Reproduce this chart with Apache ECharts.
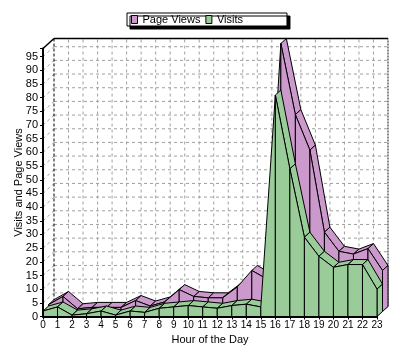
<!DOCTYPE html>
<html><head><meta charset="utf-8">
<script src="https://cdn.jsdelivr.net/npm/echarts@6/dist/echarts.min.js"></script>
<style>html,body{margin:0;padding:0;background:#fff}#c{width:400px;height:356px}</style>
</head><body><div id="c"></div>
<script>
// ---- data ----
const hours = ['0','1','2','3','4','5','6','7','8','9','10','11','12','13','14','15','16','17','18','19','20','21','22','23'];
const yTicks = [0,5,10,15,20,25,30,35,40,45,50,55,60,65,70,75,80,85,90,95];
const visits    = [2, 3.5, 0.5, 1, 2, 0.5, 2, 1.5, 3, 3.5, 4, 3.5, 3, 4, 4.5, 3.5, 81, 54, 29, 22, 18, 19, 19, 10];
const pageViews = [2.5, 5.5, 1, 1.5, 1.5, 1.5, 4, 2, 3.5, 8, 5.5, 5, 5, 9, 15, 12, 98, 72, 59, 29, 22, 21, 23, 15];
const seriesNames = ['Page Views', 'Visits'];
const Y_MAX = 98;

// ---- style / projection ----
const DEPTH = [11, -10];
const FONT = "'Liberation Sans', Arial, sans-serif";
const PURPLE = '#cc99cc', GREEN = '#99cc99';

function off(p, t) { return [p[0] + DEPTH[0] * t, p[1] + DEPTH[1] * t]; }

function rowRender(values, t0, t1, color) {
  return function (params, api) {
    const i = params.dataIndex;
    const children = [];
    const style = { fill: color, stroke: '#000', lineWidth: 1 };
    const v0 = values[i];
    const F0 = off(api.coord([i, v0]), t0);
    const B0 = off(api.coord([i, 0]), t0);
    if (i < values.length - 1) {
      const v1 = values[i + 1];
      const F1 = off(api.coord([i + 1, v1]), t0);
      const B1 = off(api.coord([i + 1, 0]), t0);
      const ex = F1[0] - F0[0], ey = F1[1] - F0[1];
      const dx = DEPTH[0] * (t1 - t0), dy = DEPTH[1] * (t1 - t0);
      if (ex * dy - ey * dx < 0) {
        children.push({ type: 'polygon', z2: 1,
          shape: { points: [F0, F1, off(api.coord([i + 1, v1]), t1), off(api.coord([i, v0]), t1)] },
          style: style });
      }
      children.push({ type: 'polygon', z2: 3, shape: { points: [B0, F0, F1, B1] }, style: style });
    } else {
      children.push({ type: 'polygon', z2: 2,
        shape: { points: [B0, F0, off(api.coord([i, v0]), t1), off(api.coord([i, 0]), t1)] },
        style: style });
    }
    return { type: 'group', children: children };
  };
}

function frameRender(params, api) {
  const ch = [];
  const grid = { stroke: '#a0a0a0', lineWidth: 1, lineDash: [3, 3] };
  const last = hours.length - 1;
  yTicks.forEach(function (v) {
    const a = api.coord([0, v]);
    ch.push({ type: 'line', shape: { x1: a[0], y1: a[1], x2: off(a, 1)[0], y2: off(a, 1)[1] }, style: grid });
    const b = off(a, 1), c = off(api.coord([last, v]), 1);
    if (v > 0) ch.push({ type: 'line', shape: { x1: b[0], y1: b[1], x2: c[0], y2: c[1] }, style: grid });
  });
  hours.forEach(function (h, i) {
    const a = api.coord([i, 0]);
    const b = off(a, 1), c = off(api.coord([i, Y_MAX]), 1);
    ch.push({ type: 'line', shape: { x1: a[0], y1: a[1], x2: b[0], y2: b[1] }, style: grid });
    if (i > 0 && i < last) ch.push({ type: 'line', shape: { x1: b[0], y1: b[1], x2: c[0], y2: c[1] }, style: grid });
  });
  const tl = api.coord([0, Y_MAX]), tlb = off(tl, 1);
  const trb = off(api.coord([last, Y_MAX]), 1);
  const blb = off(api.coord([0, 0]), 1), brb = off(api.coord([last, 0]), 1);
  ch.push({ type: 'line', shape: { x1: blb[0], y1: blb[1], x2: tlb[0], y2: tlb[1] }, style: { stroke: '#000', lineWidth: 1, lineDash: [3, 2] } });
  ch.push({ type: 'line', shape: { x1: blb[0], y1: blb[1], x2: brb[0], y2: brb[1] }, style: grid });
  ch.push({ type: 'line', shape: { x1: brb[0], y1: brb[1], x2: trb[0], y2: trb[1] }, style: { stroke: '#888', lineWidth: 2, lineDash: [2, 1] } });
  ch.push({ type: 'line', shape: { x1: tl[0], y1: tl[1], x2: tlb[0], y2: tlb[1] }, style: { stroke: '#000', lineWidth: 1.5 } });
  ch.push({ type: 'line', shape: { x1: tlb[0], y1: tlb[1], x2: trb[0], y2: trb[1] }, style: { stroke: '#000', lineWidth: 1.5 } });
  return { type: 'group', children: ch };
}

const chart = echarts.init(document.getElementById('c'), null, { renderer: 'canvas' });
chart.setOption({
  animation: false,
  backgroundColor: '#fff',
  textStyle: { fontFamily: FONT },
  grid: { left: 43, right: 23, top: 48.5, bottom: 39.5 },
  legend: {
    left: 127, top: 13, padding: [1, 44, 1, 4], itemGap: 5,
    itemWidth: 6, itemHeight: 8,
    backgroundColor: '#fff', borderColor: '#000', borderWidth: 1,
    shadowColor: '#000', shadowOffsetX: 3, shadowOffsetY: 3, shadowBlur: 0.01,
    textStyle: { fontSize: 11, color: '#000', fontFamily: FONT },
    data: [
      { name: seriesNames[0], icon: 'rect', itemStyle: { color: PURPLE, borderColor: '#000', borderWidth: 1 } },
      { name: seriesNames[1], icon: 'rect', itemStyle: { color: GREEN, borderColor: '#000', borderWidth: 1 } }
    ]
  },
  xAxis: {
    type: 'value', min: 0, max: hours.length - 1, interval: 1, z: 10,
    name: 'Hour of the Day', nameLocation: 'middle', nameGap: 18, nameMoveOverlap: false,
    nameTextStyle: { fontSize: 11, color: '#000', fontFamily: FONT },
    axisLine: { lineStyle: { color: '#000', width: 2 } },
    axisTick: { length: 3, lineStyle: { color: '#000' } },
    axisLabel: { fontSize: 10, color: '#000', margin: 4, fontFamily: FONT, formatter: function (v) { return hours[v] || ''; } },
    splitLine: { show: false }
  },
  yAxis: {
    type: 'value', min: 0, max: Y_MAX, interval: 5, z: 10,
    name: 'Visits and Page Views', nameLocation: 'middle', nameGap: 19, nameRotate: 90, nameMoveOverlap: false,
    nameTextStyle: { fontSize: 11, color: '#000', fontFamily: FONT },
    axisLine: { show: true, lineStyle: { color: '#000', width: 2 } },
    axisTick: { show: true, length: 3, lineStyle: { color: '#000' } },
    axisLabel: { fontSize: 11, color: '#000', margin: 5, fontFamily: FONT,
      formatter: function (v) { return yTicks.indexOf(v) >= 0 ? String(v) : ''; } },
    splitLine: { show: false }
  },
  series: [
    { type: 'custom', name: 'frame', z: 1, silent: true, clip: false, renderItem: frameRender, data: [0] },
    { type: 'custom', name: seriesNames[0], z: 2, clip: false,
      itemStyle: { color: PURPLE, borderColor: '#000', borderWidth: 1 },
      renderItem: rowRender(pageViews, 0.5, 1, PURPLE), data: pageViews.map(function (v, i) { return [i, v]; }) },
    { type: 'custom', name: seriesNames[1], z: 3, clip: false,
      itemStyle: { color: GREEN, borderColor: '#000', borderWidth: 1 },
      renderItem: rowRender(visits, 0, 0.5, GREEN), data: visits.map(function (v, i) { return [i, v]; }) }
  ]
});
</script>
</body></html>
